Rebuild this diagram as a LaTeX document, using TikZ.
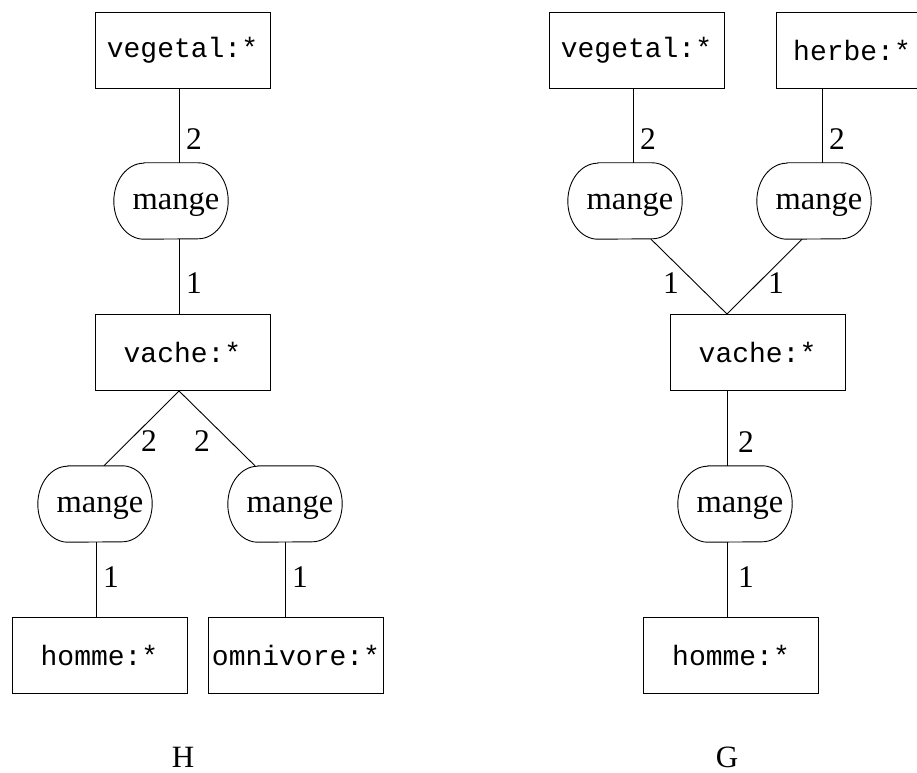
\documentclass[tikz,border=0pt]{standalone}
\usepackage{fontspec}
\setmainfont{Liberation Serif}
\setmonofont{Liberation Mono}
\begin{document}
\begin{tikzpicture}[x=1pt,y=1pt,
  concept/.style={draw, line width=0.9pt, minimum width=175pt, minimum height=76pt,
    inner sep=0pt, font=\fontsize{28}{30}\selectfont\ttfamily},
  relation/.style={minimum width=114pt, minimum height=76pt, inner sep=0pt,
    text depth=0pt, font=\fontsize{32.5}{35}\selectfont},
  edge/.style={line width=0.9pt},
  arity/.style={inner sep=0pt, font=\fontsize{31.5}{34}\selectfont},
  gname/.style={inner sep=0pt, font=\fontsize{31}{34}\selectfont},
]
\useasboundingbox (0,0) rectangle (917,772);
\clip (0,0) rectangle (917,772);

% ---------- graph H ----------
\node[concept] (vegL) at (182.5,722) {vegetal:*};
\node[relation] (mL1) at (171,571) {\hspace*{10pt}mange};
\node[concept] (vacL) at (182.5,419.5) {vache:*};
\node[relation] (mL2) at (95,268) {\hspace*{10pt}mange};
\node[relation] (mL3) at (285,268) {\hspace*{10pt}mange};
\node[concept] (homL) at (99.5,117) {homme:*};
\node[concept] (omnL) at (296,117) {omnivore:*};

\draw[edge] ([xshift=-3.5pt]vegL.south) -- ([xshift=8pt]mL1.north);
\draw[edge] ([xshift=8pt]mL1.south) -- ([xshift=-3.5pt]vacL.north);
\draw[edge] ([xshift=-3.5pt]vacL.south) -- ([xshift=9pt]mL2.north);
\draw[edge] ([xshift=-3.5pt]vacL.south) -- ([xshift=-30pt]mL3.north);
\draw[edge] ([xshift=1pt]mL2.south) -- ([xshift=-3.5pt]homL.north);
\draw[edge] (mL3.south) -- ([xshift=-11pt]omnL.north);

\node[arity] (aL1) at (194,633) {2};
\node[arity] (aL2) at (194,489) {1};
\node[arity] (aL3) at (149,331) {2};
\node[arity] (aL4) at (202,331) {2};
\node[arity] (aL5) at (111,195) {1};
\node[arity] (aL6) at (300,195) {1};
\node[gname] (nameH) at (183,15) {H};

% ---------- graph G ----------
\node[concept] (vegR) at (636.5,722) {vegetal:*};
\node[concept, minimum width=152pt] (herbR) at (852,722) {herbe:*};
\node[relation] (mR1) at (625,571) {\hspace*{10pt}mange};
\node[relation] (mR2) at (814,571) {\hspace*{10pt}mange};
\node[concept] (vacR) at (757.5,419.5) {vache:*};
\node[relation] (mR3) at (735,268) {\hspace*{10pt}mange};
\node[concept] (homR) at (731,117) {homme:*};

\draw[edge] ([xshift=-3.5pt]vegR.south) -- ([xshift=8pt]mR1.north);
\draw[edge] ([xshift=-30pt]herbR.south) -- ([xshift=8pt]mR2.north);
\draw[edge] ([xshift=26pt]mR1.south) -- ([xshift=-30.5pt]vacR.north);
\draw[edge] ([xshift=-12pt]mR2.south) -- ([xshift=-30.5pt]vacR.north);
\draw[edge] ([xshift=-30.5pt]vacR.south) -- ([xshift=-8pt]mR3.north);
\draw[edge] ([xshift=-8pt]mR3.south) -- ([xshift=-4pt]homR.north);

\node[arity] (aR1) at (648,633) {2};
\node[arity] (aR2) at (837,633) {2};
\node[arity] (aR3) at (671,489) {1};
\node[arity] (aR4) at (776,489) {1};
\node[arity] (aR5) at (746,330) {2};
\node[arity] (aR6) at (746,195) {1};
\node[gname] (nameG) at (727,15) {G};

% relation outlines: flat top and bottom, half-elliptic sides
\foreach \n in {mL1,mL2,mL3,mR1,mR2,mR3}{
  \draw[edge] ([xshift=30pt]\n.north west) -- ([xshift=-30pt]\n.north east)
    arc[start angle=90, end angle=-90, x radius=30pt, y radius=38pt]
    -- ([xshift=30pt]\n.south west)
    arc[start angle=270, end angle=90, x radius=30pt, y radius=38pt] -- cycle;
}
\end{tikzpicture}
\end{document}
